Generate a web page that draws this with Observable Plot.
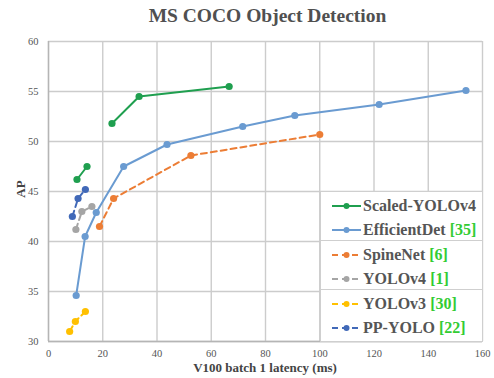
<!DOCTYPE html>
<html><head><meta charset="utf-8">
<script src="https://cdn.jsdelivr.net/npm/d3@7"></script>
<script src="https://cdn.jsdelivr.net/npm/@observablehq/plot@0.6"></script>
<style>
html,body{margin:0;padding:0;background:#fff;}
#wrap{position:relative;width:494px;height:378px;overflow:hidden;font-family:"Liberation Serif","Times New Roman",serif;}
#title{position:absolute;left:0;top:5px;width:535px;text-align:center;font-size:19.5px;font-weight:bold;color:#505050;line-height:22px;font-family:"Liberation Serif",serif;}
#chart{position:absolute;left:0;top:30px;}
#chart svg, #chart svg text{font-family:"Liberation Serif",serif !important;}
#xlabel{position:absolute;left:0;width:530px;top:360px;text-align:center;font-size:13px;font-weight:bold;color:#444;line-height:16px;font-family:"Liberation Serif",serif;}
#ylabel{position:absolute;left:21px;top:189px;transform:translate(-50%,-50%) rotate(-90deg);font-size:13px;font-weight:bold;color:#444;font-family:"Liberation Serif",serif;}
#legend{position:absolute;left:320px;top:191px;width:161px;height:149px;background:#fff;border:1px solid #cfcfcf;}
.grp{height:49px;border-bottom:1px solid #cfcfcf;box-sizing:border-box;padding-top:2px;}
.grp:last-child{border-bottom:none;}
.row{height:24px;display:flex;align-items:center;font-size:16px;font-weight:bold;color:#555;white-space:nowrap;font-family:"Liberation Serif",serif;}
.row svg{margin-left:11px;margin-right:2px;}
.ref{color:#33cc33;margin-left:4px;}
</style></head>
<body><div id="wrap">
<div id="title">MS COCO Object Detection</div>
<div id="chart"></div>
<div id="ylabel">AP</div>
<div id="xlabel">V100 batch 1 latency (ms)</div>
<div id="legend"></div>
</div>
<script>
const seriesNames = ["Scaled-YOLOv4","EfficientDet","SpineNet","YOLOv4","YOLOv3","PP-YOLO"];
const seriesRefs = ["","[35]","[6]","[1]","[30]","[22]"];
const seriesColors = ["#1f9f4f","#6a9bd1","#ec7d35","#a5a5a5","#ffc000","#4169b8"];
const seriesDashed = [false,false,true,true,true,true];

const scaledLatency = [10.5, 14.2, 23.4, 33.4, 66.6];
const scaledAP = [46.2, 47.5, 51.8, 54.5, 55.5];
const scaledSegment = [0, 0, 1, 1, 1];
const effLatency = [10.2, 13.5, 17.6, 27.7, 43.7, 71.6, 90.8, 121.9, 153.9];
const effAP = [34.6, 40.5, 42.9, 47.5, 49.7, 51.5, 52.6, 53.7, 55.1];
const spineLatency = [18.8, 24.0, 52.5, 100.0];
const spineAP = [41.5, 44.3, 48.6, 50.7];
const yolov4Latency = [10.1, 12.3, 16.0];
const yolov4AP = [41.2, 43.0, 43.5];
const yolov3Latency = [7.8, 9.9, 13.6];
const yolov3AP = [31.0, 32.0, 33.0];
const ppLatency = [8.8, 10.9, 13.6];
const ppAP = [42.5, 44.3, 45.2];

const xTicks = [0,20,40,60,80,100,120,140,160];
const yTicks = [30,35,40,45,50,55,60];

const lat = [scaledLatency, effLatency, spineLatency, yolov4Latency, yolov3Latency, ppLatency];
const aps = [scaledAP, effAP, spineAP, yolov4AP, yolov3AP, ppAP];
const rows = [];
seriesNames.forEach((s, i) => {
  lat[i].forEach((x, j) => rows.push({series: s, latency: x, ap: aps[i][j],
    seg: s + "-" + (i === 0 ? scaledSegment[j] : 0), dashed: seriesDashed[i]}));
});

const plot = Plot.plot({
  width: 494, height: 330,
  marginTop: 11, marginBottom: 19, marginLeft: 48, marginRight: 12,
  style: {fontFamily: "Liberation Serif, serif", fontSize: "10.5px", color: "#555", background: "transparent"},
  x: {domain: [0,160], ticks: xTicks, tickSize: 0, tickPadding: 8, label: null},
  y: {domain: [30,60], ticks: yTicks, tickSize: 0, tickPadding: 10, label: null},
  color: {domain: seriesNames, range: seriesColors},
  marks: [
    Plot.gridX(xTicks, {stroke: "#cccccc", strokeOpacity: 1, strokeWidth: 1.4}),
    Plot.gridY(yTicks, {stroke: "#cccccc", strokeOpacity: 1, strokeWidth: 1.4}),
    Plot.ruleX([0], {stroke: "#b5b5b5", strokeWidth: 1.4}),
    Plot.ruleY([30], {stroke: "#b5b5b5", strokeWidth: 1.4}),
    Plot.line(rows.filter(d => !d.dashed), {x: "latency", y: "ap", z: "seg", stroke: "series", strokeWidth: 2}),
    Plot.line(rows.filter(d => d.dashed), {x: "latency", y: "ap", z: "seg", stroke: "series", strokeWidth: 2, strokeDasharray: "6,4"}),
    Plot.dot(rows, {x: "latency", y: "ap", fill: "series", r: 3.6}),
    Plot.axisX({ticks: xTicks, tickSize: 0, tickPadding: 8, label: null}),
    Plot.axisY({ticks: yTicks, tickSize: 0, tickPadding: 10, label: null})
  ]
});
document.getElementById("chart").appendChild(plot);

const leg = document.getElementById("legend");
for (let g = 0; g < 3; g++) {
  const grp = document.createElement("div");
  grp.className = "grp";
  for (let k = 0; k < 2; k++) {
    const i = g * 2 + k;
    const row = document.createElement("div");
    row.className = "row";
    const dash = seriesDashed[i] ? ' stroke-dasharray="6,4"' : '';
    row.innerHTML = `<svg width="29" height="10"><line x1="0" y1="5" x2="29" y2="5" stroke="${seriesColors[i]}" stroke-width="2"${dash}/><circle cx="14.5" cy="5" r="3" fill="${seriesColors[i]}"/></svg><span>${seriesNames[i]}</span>` + (seriesRefs[i] ? `<span class="ref">${seriesRefs[i]}</span>` : "");
    grp.appendChild(row);
  }
  leg.appendChild(grp);
}
</script>
</body></html>
